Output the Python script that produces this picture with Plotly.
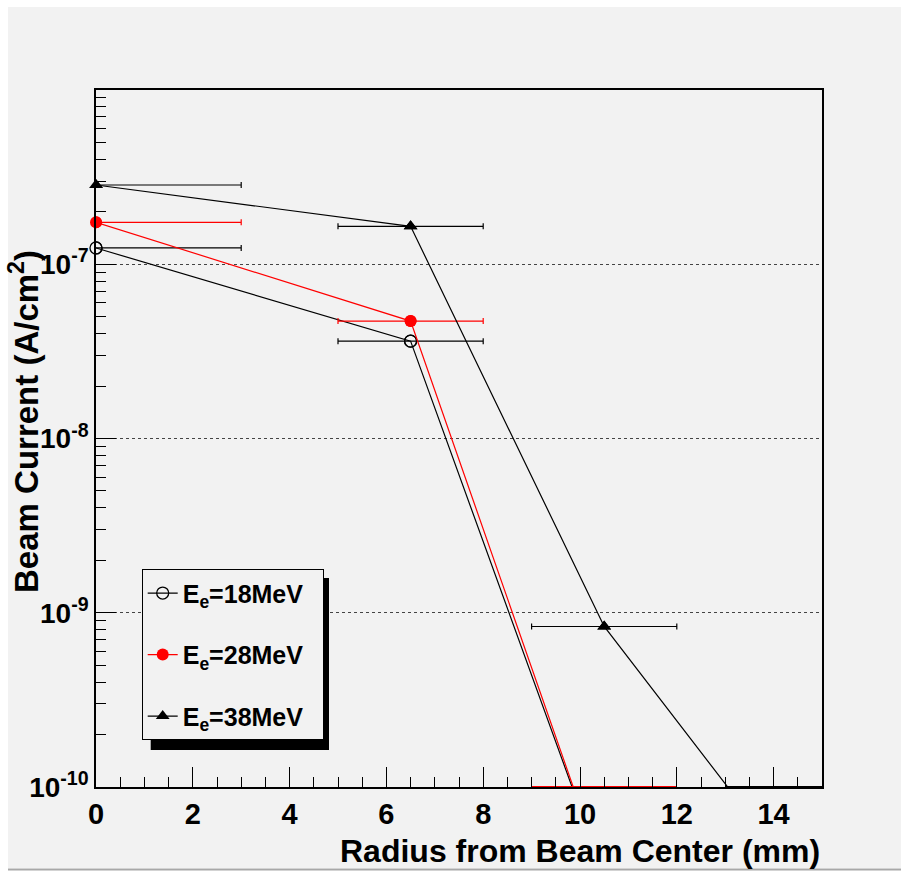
import numpy as np
import plotly.graph_objects as go

# ---------------- data ----------------
x_18 = [0.0, 6.5, 10.5]
y_18 = [1.24e-7, 3.62e-8, 3.1e-11]
xerr_18 = [3.0, 1.5, 1.5]

x_28 = [0.0, 6.5, 10.5]
y_28 = [1.74e-7, 4.72e-8, 3.1e-11]
xerr_28 = [3.0, 1.5, 1.5]

x_38 = [0.0, 6.5, 10.5, 14.5]
y_38 = [2.85e-7, 1.65e-7, 8.34e-10, 3.0e-11]
xerr_38 = [3.0, 1.5, 1.5, 1.5]

labels = ["E<sub>e</sub>=18MeV", "E<sub>e</sub>=28MeV", "E<sub>e</sub>=38MeV"]
y_tick_vals = [1e-10, 1e-9, 1e-8, 1e-7]
y_tick_text = ["10<sup>-10</sup>", "10<sup>-9</sup>", "10<sup>-8</sup>", "10<sup>-7</sup>"]
x_range = [0, 15]
y_min, y_max = 1e-10, 1e-6

FONT = "Liberation Sans"
BG = "#f2f2f2"

# plot-area pixel geometry
W, H = 901, 873
L, R, T, B = 96, 822, 90, 787
PW, PH = R - L, B - T


def px(xp):
    return (xp - L) / PW


def py(yp):
    return (B - yp) / PH


series = [
    (x_18, y_18, xerr_18, "black", dict(symbol="circle-open", color="black", line=dict(width=1.3))),
    (x_28, y_28, xerr_28, "red", dict(symbol="circle", color="red")),
    (x_38, y_38, xerr_38, "black", dict(symbol="triangle-up", color="black")),
]
MSIZE = 12

fig = go.Figure()
for i, (xs, ys, xe, col, mk) in enumerate(series):
    xs_a, ys_a, xe_a = np.array(xs), np.array(ys), np.array(xe)
    inside = ys_a >= y_min
    # line + error bars (clipped to the frame)
    fig.add_trace(go.Scatter(
        x=xs, y=ys, mode="lines+markers", name=labels[i] + "\u00a0\u00a0",
        line=dict(color=col, width=1.2), marker=dict(size=MSIZE, **mk),
        error_x=dict(type="data", array=xe, color=col, thickness=1.2, width=3),
        legendgroup=f"g{i}", cliponaxis=True,
    ))
    # markers drawn unclipped (full symbols on the frame edge)
    fig.add_trace(go.Scatter(
        x=xs_a[inside], y=ys_a[inside], mode="markers",
        marker=dict(size=MSIZE, **mk), showlegend=False, legendgroup=f"g{i}",
        hoverinfo="skip", cliponaxis=False,
    ))
    # error bars of points below the axis minimum are drawn at the frame bottom
    below = ~inside
    if below.any():
        fig.add_trace(go.Scatter(
            x=xs_a[below], y=np.full(below.sum(), y_min), mode="markers",
            marker=dict(size=0.1, color=col, opacity=0),
            error_x=dict(type="data", array=xe_a[below], color=col, thickness=2, width=0),
            showlegend=False, hoverinfo="skip", cliponaxis=False, legendgroup=f"g{i}",
        ))

fig.update_layout(
    width=W, height=H,
    margin=dict(l=L, r=W - R, t=T, b=H - B, pad=0),
    paper_bgcolor="white", plot_bgcolor=BG,
    font=dict(family=FONT, color="black"),
    showlegend=True,
    legend=dict(
        x=px(141.7), y=py(569.3), xanchor="left", yanchor="top",
        bgcolor=BG, bordercolor="black", borderwidth=1,
        font=dict(family=FONT, size=25, weight=700, color="black"),
        tracegroupgap=26, itemwidth=30,
    ),
    xaxis=dict(
        range=x_range, dtick=2, tick0=0,
        ticks="inside", ticklen=20, tickwidth=1, tickcolor="black",
        minor=dict(dtick=0.5, ticks="inside", ticklen=10, tickcolor="black", showgrid=False),
        showline=True, linecolor="black", linewidth=1.5, mirror=True,
        showgrid=False, zeroline=False,
        tickfont=dict(family=FONT, size=29, weight=700, color="black"),
    ),
    yaxis=dict(
        type="log", range=[np.log10(y_min), np.log10(y_max)],
        tickmode="array", tickvals=y_tick_vals, ticktext=y_tick_text,
        ticks="inside", ticklen=20, tickwidth=1, tickcolor="black",
        minor=dict(dtick="D1", ticks="inside", ticklen=10, tickcolor="black", showgrid=False),
        showline=True, linecolor="black", linewidth=1.5, mirror=True,
        showgrid=True, gridcolor="#444444", griddash="dot", gridwidth=1,
        zeroline=False,
        tickfont=dict(family=FONT, size=28, weight=700, color="black"),
    ),
    shapes=[
        dict(type="rect", xref="paper", yref="paper", layer="below",
             x0=px(8), x1=px(901), y0=py(868), y1=py(7),
             fillcolor=BG, line=dict(width=0)),
        dict(type="line", xref="paper", yref="paper", layer="below",
             x0=px(8), x1=px(901), y0=py(869.5), y1=py(869.5),
             line=dict(color="#a8a8a8", width=2)),
        dict(type="rect", xref="paper", yref="paper", layer="above",
             x0=px(150.7), x1=px(329), y0=py(750), y1=py(578),
             fillcolor="black", line=dict(width=0)),
    ],
    annotations=[
        dict(text="Radius from Beam Center (mm)", xref="paper", yref="paper",
             x=1.0, y=py(851), xanchor="right", yanchor="middle", showarrow=False,
             font=dict(family=FONT, size=32, weight=700, color="black")),
        dict(text="Beam Current (A/cm<sup>2</sup>)", xref="paper", yref="paper",
             x=px(24), y=py(422), xanchor="center", yanchor="middle", showarrow=False,
             textangle=-90,
             font=dict(family=FONT, size=33, weight=700, color="black")),
    ],
)

fig.write_html("out.html")
